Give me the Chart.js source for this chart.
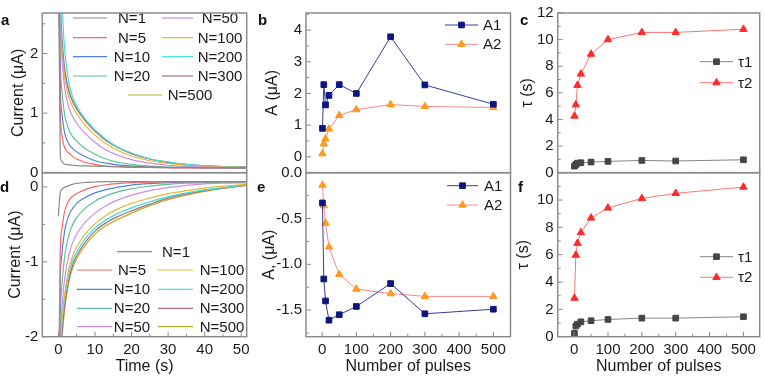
<!DOCTYPE html>
<html>
<head>
<meta charset="utf-8">
<script src="https://cdn.jsdelivr.net/npm/chart.js@4/dist/chart.umd.min.js"></script>
<style>
body { margin: 0; background: #fff; width: 765px; height: 377px; overflow: hidden; position: relative; font-family: "Liberation Sans", Arial, sans-serif; }
canvas { position: absolute; left: 0; top: 0; }
.lab { position: absolute; font-weight: bold; font-size: 15px; line-height: 15px; color: #111; }
</style>
</head>
<body>
<canvas id="ca" width="765" height="377"></canvas>
<canvas id="cb" width="765" height="377"></canvas>
<canvas id="cc" width="765" height="377"></canvas>
<canvas id="cd" width="765" height="377"></canvas>
<canvas id="ce" width="765" height="377"></canvas>
<canvas id="cf" width="765" height="377"></canvas>
<div class="lab" style="left:1px;top:12px">a</div>
<div class="lab" style="left:258px;top:12px">b</div>
<div class="lab" style="left:520px;top:12px">c</div>
<div class="lab" style="left:0px;top:179px">d</div>
<div class="lab" style="left:257px;top:179px">e</div>
<div class="lab" style="left:518px;top:179px">f</div>
<script>
// ---- data ----
const time = [0, 0.5, 1, 1.5, 2, 3, 4, 5, 7, 10, 13, 16, 20, 25, 30, 35, 40, 45, 51.5];
const curveLabels = ['N=1', 'N=5', 'N=10', 'N=20', 'N=50', 'N=100', 'N=200', 'N=300', 'N=500'];
const curveColors = ['#8a8a8a', '#ff6464', '#4a86d8', '#5cc49a', '#cc8ee8', '#e6b83a', '#3ee0e0', '#a86e80', '#b8b22a'];

// panel a : positive current after pulses (uA)
const aN1   = [4, 0.30, 0.18, 0.15, 0.14, 0.13, 0.125, 0.12, 0.115, 0.11, 0.105, 0.10, 0.10, 0.095, 0.09, 0.09, 0.085, 0.085, 0.08];
const aN5   = [4, 1.10, 0.62, 0.46, 0.39, 0.32, 0.27, 0.23, 0.18, 0.14, 0.11, 0.10, 0.09, 0.088, 0.083, 0.08, 0.08, 0.08, 0.078];
const aN10  = [4, 1.43, 0.98, 0.74, 0.60, 0.47, 0.40, 0.35, 0.28, 0.20, 0.16, 0.13, 0.11, 0.093, 0.086, 0.083, 0.082, 0.081, 0.08];
const aN20  = [4, 1.90, 1.36, 1.06, 0.89, 0.70, 0.60, 0.53, 0.42, 0.31, 0.23, 0.18, 0.14, 0.11, 0.095, 0.088, 0.084, 0.082, 0.081];
const aN50  = [4, 2.54, 1.90, 1.54, 1.31, 1.07, 0.93, 0.83, 0.68, 0.51, 0.38, 0.30, 0.22, 0.16, 0.125, 0.106, 0.095, 0.088, 0.084];
const aN100 = [4, 2.61, 2.05, 1.70, 1.49, 1.24, 1.10, 0.99, 0.82, 0.63, 0.49, 0.38, 0.28, 0.20, 0.154, 0.125, 0.107, 0.097, 0.089];
const aN200 = [4, 3.85, 2.86, 2.25, 1.88, 1.47, 1.26, 1.12, 0.93, 0.72, 0.56, 0.44, 0.33, 0.23, 0.18, 0.14, 0.117, 0.103, 0.092];
const aN300 = [4, 2.88, 2.25, 1.87, 1.63, 1.35, 1.19, 1.08, 0.90, 0.70, 0.54, 0.43, 0.32, 0.23, 0.17, 0.137, 0.116, 0.102, 0.092];
const aN500 = [4, 2.56, 2.09, 1.79, 1.59, 1.34, 1.18, 1.07, 0.90, 0.70, 0.55, 0.43, 0.32, 0.23, 0.18, 0.14, 0.12, 0.104, 0.093];

// panel d : negative current after pulses (uA)
const dN1   = [-0.39, -0.08, -0.03, -0.01, 0.00, 0.02, 0.037, 0.047, 0.059, 0.066, 0.07, 0.07, 0.07, 0.07, 0.07, 0.07, 0.07, 0.07, 0.07];
const dN5   = [-3, -0.87, -0.56, -0.38, -0.28, -0.17, -0.12, -0.088, -0.042, 0.003, 0.029, 0.045, 0.057, 0.065, 0.068, 0.07, 0.07, 0.07, 0.07];
const dN10  = [-3, -1.25, -0.88, -0.66, -0.52, -0.36, -0.28, -0.22, -0.15, -0.08, -0.035, -0.005, 0.025, 0.045, 0.057, 0.063, 0.067, 0.069, 0.07];
const dN20  = [-3, -1.72, -1.29, -1.02, -0.84, -0.62, -0.49, -0.41, -0.30, -0.19, -0.12, -0.07, -0.025, 0.01, 0.035, 0.05, 0.058, 0.063, 0.066];
const dN50  = [-3, -2.00, -1.60, -1.32, -1.13, -0.88, -0.73, -0.63, -0.49, -0.35, -0.25, -0.18, -0.11, -0.05, -0.01, 0.02, 0.04, 0.05, 0.055];
const dN100 = [-3, -2.15, -1.78, -1.52, -1.33, -1.07, -0.91, -0.80, -0.65, -0.49, -0.38, -0.30, -0.22, -0.15, -0.09, -0.05, -0.015, 0.01, 0.035];
const dN200 = [-3, -2.10, -1.78, -1.55, -1.38, -1.13, -0.97, -0.87, -0.71, -0.55, -0.44, -0.36, -0.28, -0.20, -0.13, -0.08, -0.04, -0.01, 0.03];
const dN300 = [-3, -2.30, -1.95, -1.68, -1.48, -1.20, -1.03, -0.92, -0.76, -0.59, -0.48, -0.40, -0.32, -0.23, -0.15, -0.095, -0.05, -0.015, 0.025];
const dN500 = [-3, -2.35, -2.00, -1.73, -1.52, -1.24, -1.07, -0.96, -0.80, -0.63, -0.52, -0.44, -0.35, -0.25, -0.17, -0.11, -0.06, -0.02, 0.02];

// fitted parameters vs number of pulses
const pulses = [1, 5, 10, 20, 50, 100, 200, 300, 500];
const bA1 = [0.90, 2.28, 1.64, 1.94, 2.28, 2.00, 3.79, 2.27, 1.66];
const bA2 = [0.10, 0.41, 0.57, 0.88, 1.31, 1.49, 1.65, 1.59, 1.56];
const cTau1 = [0.49, 0.62, 0.72, 0.75, 0.80, 0.85, 0.92, 0.88, 0.97];
const cTau2 = [4.26, 5.11, 6.57, 7.42, 8.91, 10.0, 10.54, 10.54, 10.78];
const eA1 = [-0.33, -1.16, -1.40, -1.61, -1.55, -1.46, -1.21, -1.54, -1.49];
const eA2 = [-0.135, -0.36, -0.55, -0.81, -1.11, -1.27, -1.32, -1.35, -1.35];
const fTau1 = [0.24, 0.78, 0.92, 1.09, 1.17, 1.26, 1.36, 1.36, 1.46];
const fTau2 = [2.82, 5.97, 6.84, 7.62, 8.69, 9.42, 10.12, 10.49, 10.95];

// tick values
const timeTicks = [0, 10, 20, 30, 40, 50];
const pulseTicks = [0, 100, 200, 300, 400, 500];
const aTicks = [0, 1, 2];
const bTicks = [0, 1, 2, 3, 4];
const cTicks = [0, 2, 4, 6, 8, 10, 12];
const dTicks = [-2, -1, 0];
const eTicks = [-1.5, -1.0, -0.5, 0.0];
const fTicks = [0, 2, 4, 6, 8, 10];

// ---- helpers ----
const W = 765, H = 377;
const pts = (xs, ys) => xs.map((x, i) => ({ x: x, y: ys[i] }));

function tickMarks(scale) {
  const vals = scale.ticks.map(t => t.value);
  const step = vals[1] - vals[0];
  const out = [];
  for (let k = -1; k <= vals.length; k++) {
    const v = vals[0] + k * step;
    if (v >= scale.min - 1e-9 && v <= scale.max + 1e-9) out.push([v, 5]);
    const m = v + step / 2;
    if (m >= scale.min && m <= scale.max) out.push([m, 3]);
  }
  return out;
}

const boxPlugin = {
  id: 'box',
  afterDraw(chart) {
    const o = chart.options.plugins.box;
    const ctx = chart.ctx, ar = chart.chartArea;
    ctx.save();
    // legend
    ctx.font = '15px "Liberation Sans", Arial, sans-serif';
    ctx.textBaseline = 'middle';
    o.legend.forEach(it => {
      const ds = chart.data.datasets[it.i];
      ctx.strokeStyle = ds.borderColor;
      ctx.lineWidth = ds.borderWidth;
      ctx.beginPath();
      ctx.moveTo(it.x1, it.y);
      ctx.lineTo(it.x2, it.y);
      ctx.stroke();
      if (ds.pointStyle) {
        ctx.fillStyle = ds.pointBackgroundColor;
        ctx.strokeStyle = ds.pointBorderColor;
        ctx.lineWidth = 1;
        Chart.helpers.drawPoint(ctx, { pointStyle: ds.pointStyle, radius: ds.pointRadius, rotation: 0, borderWidth: 1 }, (it.x1 + it.x2) / 2, it.y);
      }
      ctx.fillStyle = '#1a1a1a';
      ctx.textAlign = it.ta || 'left';
      ctx.fillText(ds.label, it.tx, it.y + 1);
    });
    // frame
    ctx.strokeStyle = '#8c8c8c';
    ctx.lineWidth = 1.5;
    ctx.strokeRect(ar.left, ar.top, ar.right - ar.left, ar.bottom - ar.top);
    ctx.lineWidth = 1;
    ctx.beginPath();
    const ys = chart.scales.y;
    tickMarks(ys).forEach(([v, len]) => {
      const p = ys.getPixelForValue(v);
      ctx.moveTo(ar.left, p);
      ctx.lineTo(ar.left + len, p);
    });
    if (o.xTicks) {
      const xs = chart.scales.x;
      tickMarks(xs).forEach(([v, len]) => {
        const p = xs.getPixelForValue(v);
        ctx.moveTo(p, ar.bottom);
        ctx.lineTo(p, ar.bottom - len);
      });
    }
    ctx.stroke();
    ctx.restore();
  }
};

function panel(id, box, xr, yr, datasets, legend, xTitle, yTitle, bottom) {
  return new Chart(document.getElementById(id), {
    type: 'line',
    data: { datasets: datasets },
    options: {
      responsive: false,
      animation: false,
      devicePixelRatio: 1,
      layout: { padding: { left: box.l - box.yw, top: box.t, right: W - box.r, bottom: 0 } },
      plugins: { legend: { display: false }, tooltip: { enabled: false }, box: { legend: legend, xTicks: bottom } },
      scales: {
        x: {
          type: 'linear', min: xr.min, max: xr.max,
          ticks: { display: bottom, autoSkip: false, padding: 4, color: '#1a1a1a', font: { size: 15 }, maxRotation: 0 },
          grid: { display: false, drawTicks: false },
          border: { display: false },
          title: { display: bottom, text: xTitle, color: '#1a1a1a', font: { size: 16 }, padding: { top: 0, bottom: 1 } },
          afterBuildTicks(s) { s.ticks = xr.ticks.map(v => ({ value: v })); },
          afterFit(s) { s.height = H - box.b; }
        },
        y: {
          type: 'linear', min: yr.min, max: yr.max,
          ticks: { autoSkip: false, padding: 4, color: '#1a1a1a', font: { size: 15 }, callback: yr.fmt },
          grid: { display: false, drawTicks: false },
          border: { display: false },
          title: { display: true, text: yTitle, color: '#1a1a1a', font: { size: 16 }, padding: { top: 4, bottom: 0 } },
          afterBuildTicks(s) { s.ticks = yr.ticks.map(v => ({ value: v })); },
          afterFit(s) { s.width = box.yw; }
        }
      }
    },
    plugins: [boxPlugin]
  });
}

function curveSets(arrs) {
  return arrs.map((a, i) => ({
    label: curveLabels[i], data: pts(time, a), borderColor: curveColors[i], borderWidth: 1.2,
    pointRadius: 0, cubicInterpolationMode: 'monotone', fill: false
  }));
}
function markSet(label, ys, line, mark, style) {
  return {
    label: label, data: pts(pulses, ys), borderColor: line, borderWidth: 1,
    pointStyle: style, pointRadius: style === 'rect' ? 4 : 4.3,
    pointBackgroundColor: mark, pointBorderColor: mark, pointBorderWidth: 1, tension: 0, fill: false
  };
}

const TOP = 8.3, MID = 172.7, BOT = 336.7;
const timeRange = { min: -4.4, max: 51.5, ticks: timeTicks };
const pulseRange = { min: -47, max: 550, ticks: pulseTicks };
const pulseRangeC = { min: -48.5, max: 548, ticks: pulseTicks };

// a
panel('ca', { l: 42.3, r: 246.7, t: TOP, b: MID, yw: 37.4 }, timeRange, { min: 0, max: 2.68, ticks: aTicks },
  curveSets([aN1, aN5, aN10, aN20, aN50, aN100, aN200, aN300, aN500]),
  [
    { i: 0, x1: 73, x2: 107, y: 18, tx: 132, ta: 'center' },
    { i: 1, x1: 73, x2: 107, y: 37.7, tx: 132, ta: 'center' },
    { i: 2, x1: 73, x2: 107, y: 56.7, tx: 132, ta: 'center' },
    { i: 3, x1: 73, x2: 107, y: 76, tx: 132, ta: 'center' },
    { i: 4, x1: 162, x2: 193, y: 18, tx: 220, ta: 'center' },
    { i: 5, x1: 162, x2: 193, y: 37.7, tx: 220, ta: 'center' },
    { i: 6, x1: 162, x2: 193, y: 56.7, tx: 220, ta: 'center' },
    { i: 7, x1: 162, x2: 193, y: 76, tx: 220, ta: 'center' },
    { i: 8, x1: 128, x2: 162, y: 95, tx: 190, ta: 'center' }
  ], '', 'Current (\u03bcA)', false);

// d
panel('cd', { l: 42.3, r: 246.7, t: MID, b: BOT, yw: 39.9 }, timeRange, { min: -2, max: 0.19, ticks: dTicks },
  curveSets([dN1, dN5, dN10, dN20, dN50, dN100, dN200, dN300, dN500]),
  [
    { i: 0, x1: 117, x2: 152, y: 251.7, tx: 176, ta: 'center' },
    { i: 1, x1: 77, x2: 112, y: 270, tx: 132, ta: 'center' },
    { i: 2, x1: 77, x2: 112, y: 289.3, tx: 132, ta: 'center' },
    { i: 3, x1: 77, x2: 112, y: 308.3, tx: 132, ta: 'center' },
    { i: 4, x1: 77, x2: 112, y: 326.7, tx: 132, ta: 'center' },
    { i: 5, x1: 158, x2: 193, y: 270, tx: 222, ta: 'center' },
    { i: 6, x1: 158, x2: 193, y: 289.3, tx: 222, ta: 'center' },
    { i: 7, x1: 158, x2: 193, y: 308.3, tx: 222, ta: 'center' },
    { i: 8, x1: 158, x2: 193, y: 326.7, tx: 222, ta: 'center' }
  ], 'Time (s)', 'Current (\u03bcA)', true);

// b
panel('cb', { l: 306, r: 510.5, t: TOP, b: MID, yw: 47.1 }, pulseRange, { min: -0.5, max: 4.54, ticks: bTicks },
  [markSet('A1', bA1, '#3a3aa0', '#0d1580', 'rect'), markSet('A2', bA2, '#f48a8a', '#ff9a1e', 'triangle')],
  [{ i: 0, x1: 445, x2: 478, y: 25, tx: 483 }, { i: 1, x1: 445, x2: 478, y: 44.3, tx: 483 }],
  '', 'A (\u03bcA)', false);

// e
panel('ce', { l: 306, r: 510.5, t: MID, b: BOT, yw: 49.6 }, pulseRange, { min: -1.79, max: 0, ticks: eTicks, fmt: v => v.toFixed(1) },
  [markSet('A1', eA1, '#3a3aa0', '#0d1580', 'rect'), markSet('A2', eA2, '#f48a8a', '#ff9a1e', 'triangle')],
  [{ i: 0, x1: 447, x2: 478, y: 185.7, tx: 484 }, { i: 1, x1: 447, x2: 478, y: 205, tx: 484 }],
  'Number of pulses', 'A, (\u03bcA)', true);

// c
panel('cc', { l: 557.7, r: 761.7, t: TOP, b: MID, yw: 43.8 }, pulseRangeC, { min: 0, max: 12, ticks: cTicks },
  [markSet('\u03c41', cTau1, '#858585', '#454545', 'rect'), markSet('\u03c42', cTau2, '#ff7474', '#ff2a2a', 'triangle')],
  [{ i: 0, x1: 700, x2: 733, y: 61.7, tx: 738 }, { i: 1, x1: 700, x2: 733, y: 82.7, tx: 738 }],
  '', '\u03c4 (s)', false);

// f
panel('cf', { l: 557.7, r: 761.7, t: MID, b: BOT, yw: 47.3 }, pulseRangeC, { min: 0, max: 12, ticks: fTicks },
  [markSet('\u03c41', fTau1, '#858585', '#454545', 'rect'), markSet('\u03c42', fTau2, '#ff7474', '#ff2a2a', 'triangle')],
  [{ i: 0, x1: 700, x2: 733, y: 256.7, tx: 738 }, { i: 1, x1: 700, x2: 733, y: 277.3, tx: 738 }],
  'Number of pulses', '\u03c4 (s)', true);
</script>
</body>
</html>
